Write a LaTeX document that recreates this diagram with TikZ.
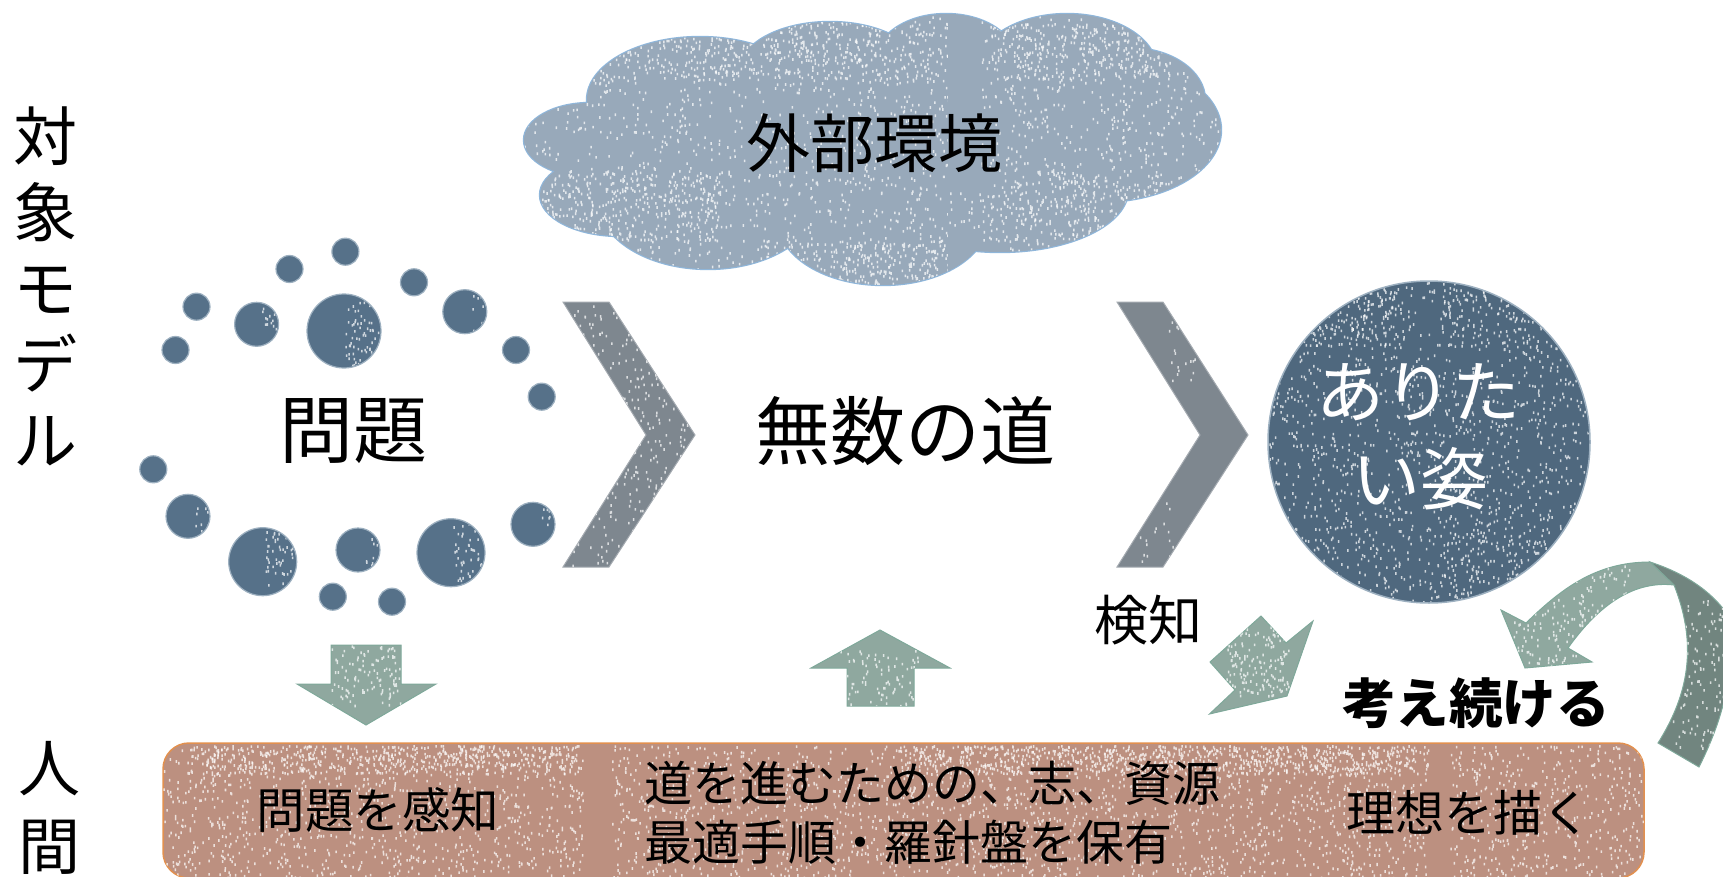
\documentclass[tikz,border=0pt]{standalone}
\usepackage{fontspec}
\setmainfont{Noto Sans CJK JP}
\definecolor{cloudc}{HTML}{98A9BA}
\definecolor{cloude}{HTML}{8FB6DA}
\definecolor{dotc}{HTML}{567189}
\definecolor{dote}{HTML}{9DB0C0}
\definecolor{chevc}{HTML}{7E878F}
\definecolor{arrc}{HTML}{8FA89F}
\definecolor{arrd}{HTML}{71857F}
\definecolor{arre}{HTML}{7FA89A}
\definecolor{barc}{HTML}{BC9080}
\definecolor{bare}{HTML}{E2904F}
\tikzset{
  lbl/.style={inner sep=0pt,align=center,text=black},
  dotfill/.style={fill=dotc,draw=dote,line width=1.2pt},
  chev/.style={fill=chevc,draw=chevc!70!white,line width=1pt,line join=miter},
  arrow shape/.style={fill=arrc,draw=arre,line width=1pt,line join=miter},
}
% x y w h n : white flecks
\newcommand{\flecks}[5]{\fill[white,opacity=.72] \foreach \ii in {1,...,#5}{({#1+rnd*#3},{#2+rnd*#4}) rectangle ++(1.5,2.6)};}
\newcommand{\cloudpath}{
 (590,140) ellipse [x radius=66pt,y radius=37pt]
 (700,100) ellipse [x radius=113pt,y radius=63pt]
 (830,70) ellipse [x radius=90pt,y radius=48pt]
 (946,60) ellipse [x radius=70pt,y radius=46pt]
 (1067,70) ellipse [x radius=90pt,y radius=56pt]
 (1130,100) ellipse [x radius=75pt,y radius=52pt]
 (1100,130) ellipse [x radius=121pt,y radius=72pt]
 (1000,190) ellipse [x radius=128pt,y radius=62pt]
 (883,220) ellipse [x radius=105pt,y radius=65pt]
 (708,200) ellipse [x radius=110pt,y radius=69pt]
 (620,195) ellipse [x radius=80pt,y radius=41pt]
}
\newcommand{\bardef}{(163,743) [rounded corners=26pt] -- (1644,743) -- (1644,878) -- (163,878) -- cycle}
\newcommand{\dotat}[3]{\fill[dotfill] (#1,#2) circle (#3 pt);}
\begin{document}
\begin{tikzpicture}[x=1pt,y=-1pt]
\useasboundingbox (0,0) rectangle (1723,877);
\pgfmathsetseed{4711}
\begin{scope}
\clip (0,0) rectangle (1723,877);
% cloud
\draw[cloude,line width=2.4pt] \cloudpath;
\fill[cloudc] \cloudpath (700,90) rectangle (1100,220);
\begin{scope}
 \clip \cloudpath (700,90) rectangle (1100,220);
 \flecks{520}{10}{428}{280}{1300}
 \flecks{980}{10}{250}{270}{800}
 \flecks{600}{20}{348}{60}{500}
 \flecks{990}{20}{180}{60}{280}
 \flecks{540}{170}{180}{70}{320}
 \flecks{1010}{170}{150}{70}{240}
 \flecks{760}{240}{188}{50}{260}
 \fill[cloudc] (948,0) rectangle (980,290);
 \flecks{948}{190}{60}{50}{30}
\end{scope}
% dots
\foreach \x/\y/\r in {344/331/37,256.6/324.3/22,196.5/306.7/13.5,175.5/350/13.5,289.5/269/13.5,345.4/251.7/13.5,414/282.3/13.5,464.8/311.7/22,516/350/13.5,541.7/396.7/13.5,153.3/469.3/13.5,188/516.3/22,262.7/561.7/34,358/550/22,451/552.7/34,533/524.3/22,332.8/596.7/13.5,392/601.7/13.5}{
 \dotat{\x}{\y}{\r}
}
\begin{scope}
 \clip (344,331) circle (36pt) (262.7,561.7) circle (33pt) (451,552.7) circle (33pt) (464.8,311.7) circle (21pt) (533,524.3) circle (21pt) (188,516.3) circle (21pt) (358,550) circle (21pt) (256.6,324.3) circle (21pt);
 \flecks{345}{300}{36}{65}{70}
 \flecks{265}{530}{32}{65}{60}
 \flecks{453}{522}{32}{65}{60}
 \flecks{470}{295}{18}{40}{14}
 \flecks{540}{505}{16}{40}{14}
 \flecks{195}{500}{16}{40}{14}
 \flecks{365}{535}{16}{35}{14}
 \flecks{262}{305}{16}{40}{14}
\end{scope}
% chevrons
\fill[chev] (563,302) -- (609,302) -- (695,435) -- (609,567) -- (563,567) -- (646,435) -- cycle;
\begin{scope}
 \clip (563,302) -- (609,302) -- (695,435) -- (609,567) -- (563,567) -- (646,435) -- cycle;
 \flecks{565}{305}{125}{260}{420}
\end{scope}
\fill[chev] (1117,302) -- (1163,302) -- (1248,435) -- (1163,567) -- (1117,567) -- (1200,435) -- cycle;
\begin{scope}
 \clip (1117,302) -- (1163,302) -- (1248,435) -- (1163,567) -- (1117,567) -- (1200,435) -- cycle;
 \flecks{1165}{320}{30}{60}{20}
 \flecks{1120}{500}{60}{65}{20}
\end{scope}
% big circle
\fill[dotc!92!black,draw=dote,line width=1.5pt] (1429,442) circle (161pt);
\begin{scope}
 \clip (1429,442) circle (160pt);
 \flecks{1268}{281}{322}{322}{1500}
 \flecks{1290}{285}{110}{60}{140}
 \flecks{1440}{285}{120}{60}{100}
 \flecks{1440}{520}{100}{80}{100}
\end{scope}
% bar
\path[fill=barc,draw=bare,line width=1.5pt] \bardef;
\begin{scope}
 \clip \bardef;
 \flecks{163}{745}{420}{132}{1000}
 \flecks{612}{745}{815}{132}{1900}
 \flecks{1450}{745}{193}{132}{450}
 \flecks{190}{745}{393}{28}{500}
 \flecks{900}{745}{528}{28}{800}
\end{scope}
% small straight arrows
\fill[arrow shape] (331,645) -- (401,645) -- (401,684) -- (436,684) -- (366,725) -- (297,684) -- (331,684) -- cycle;
\begin{scope}
 \clip (331,645) -- (401,645) -- (401,684) -- (436,684) -- (366,725) -- (297,684) -- (331,684) -- cycle;
 \flecks{331}{645}{70}{60}{110}
\end{scope}
\fill[arrow shape] (880,630) -- (950,668) -- (914,668) -- (914,706) -- (847,706) -- (847,668) -- (811,668) -- cycle;
\begin{scope}
 \clip (880,630) -- (950,668) -- (914,668) -- (914,706) -- (847,706) -- (847,668) -- (811,668) -- cycle;
 \flecks{840}{650}{80}{56}{90}
\end{scope}
\fill[arrow shape] (1261,616) -- (1286,643) -- (1313,621) -- (1287,696) -- (1209.5,714) -- (1235,690) -- (1210,662) -- cycle;
\begin{scope}
 \clip (1261,616) -- (1286,643) -- (1313,621) -- (1287,696) -- (1209.5,714) -- (1235,690) -- (1210,662) -- cycle;
 \flecks{1225}{625}{65}{70}{170}
\end{scope}
% curved arrow, dark back part
\fill[fill=arrd,draw=arre,line width=1pt] (1650,562) .. controls (1690,575) and (1715,595) .. (1730,618) .. controls (1735,680) and (1720,725) .. (1699,767) -- (1658,743) .. controls (1685,700) and (1700,650) .. (1674,585) -- cycle;
\begin{scope}
 \clip (1650,562) .. controls (1690,575) and (1715,595) .. (1730,618) .. controls (1735,680) and (1720,725) .. (1699,767) -- (1658,743) .. controls (1685,700) and (1700,650) .. (1674,585) -- cycle;
 \flecks{1670}{600}{53}{150}{130}
\end{scope}
% curved arrow, light front part
\fill[arrow shape] (1501,610) -- (1526,623) .. controls (1560,590) and (1595,562) .. (1650,562) -- (1674,585) .. controls (1630,580) and (1595,610) .. (1568,648) -- (1592,662) -- (1525,668) -- cycle;
\begin{scope}
 \clip (1501,610) -- (1526,623) .. controls (1560,590) and (1595,562) .. (1650,562) -- (1674,585) .. controls (1630,580) and (1595,610) .. (1568,648) -- (1592,662) -- (1525,668) -- cycle;
 \flecks{1510}{565}{120}{100}{230}
\end{scope}
\end{scope}
% labels
\node[lbl,font=\fontsize{64}{76}\selectfont] (taisho) at (45,286) {対\\象\\モ\\デ\\ル};
\node[lbl,font=\fontsize{62}{78}\selectfont] (ningen) at (49,808) {人\\間};
\node[lbl,font=\fontsize{64}{70}\selectfont] (gaibu) at (874,143) {外部環境};
\node[lbl,font=\fontsize{74}{80}\selectfont] (mondai) at (353,431) {問題};
\node[lbl,font=\fontsize{75}{80}\selectfont] (michi) at (905,431) {無数の道};
\node[lbl,font=\fontsize{68}{87}\selectfont,text=white,align=left,anchor=west] (aritai) at (1316,437) {ありた\\\hspace*{36pt}い姿};
\node[lbl,font=\fontsize{54}{60}\selectfont] (kenchi) at (1148,620) {検知};
\node[lbl,font=\fontsize{53.5}{60}\selectfont\bfseries] (kangae) at (1476,703) {考え続ける};
\node[lbl,font=\fontsize{48.5}{56}\selectfont] (kanchi) at (378,810) {問題を感知};
\node[lbl,font=\fontsize{48}{59}\selectfont,align=left,anchor=west] (hoyu) at (644,813) {道を進むための、志、資源\\最適手順・羅針盤を保有};
\node[lbl,font=\fontsize{49}{56}\selectfont] (riso) at (1469,813) {理想を描く};
\end{tikzpicture}
\end{document}
